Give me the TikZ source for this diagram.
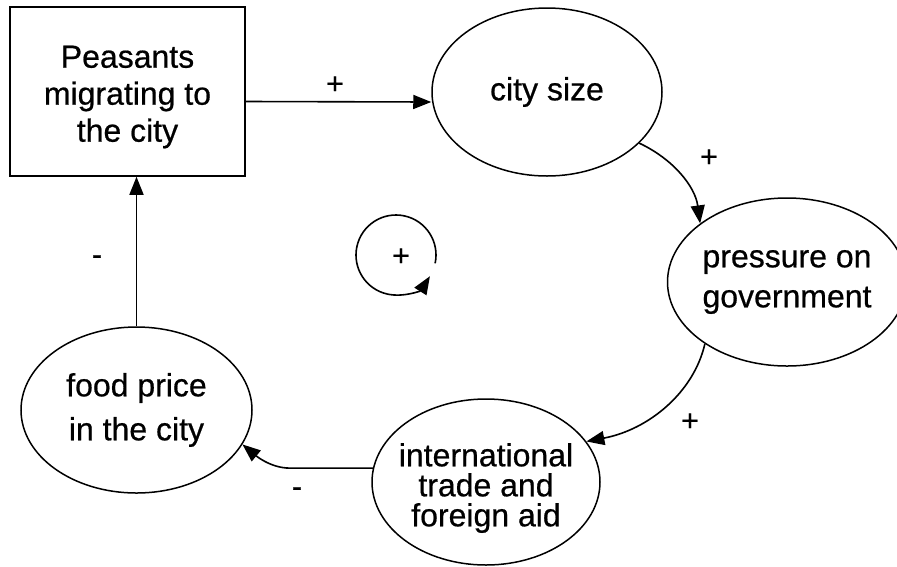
\documentclass[tikz,border=0pt]{standalone}
\usepackage{fontspec}
\setmainfont[FakeBold=0.6]{Liberation Sans}
\usetikzlibrary{shapes.geometric,arrows.meta}
\begin{document}
\begin{tikzpicture}[x=1pt,y=-1pt,
  var/.style={draw, ellipse, line width=1.5pt, inner sep=0pt, align=center},
  box/.style={draw, rectangle, line width=1.5pt, inner sep=0pt},
  txt/.style={inner sep=0pt, align=center},
  link/.style={line width=1.6pt, -{Triangle[length=18pt,width=14pt]}},
  sign/.style={inner sep=0pt, font=\fontsize{30}{30}\selectfont}]
\useasboundingbox (0,0) rectangle (897,566);

% variables
\node[box, minimum width=235pt, minimum height=169pt] (peas) at (127.5,91.5) {};
\node[txt, font=\fontsize{32}{37}\selectfont] (peastxt) at (127.5,97) {Peasants\\migrating to\\the city};
\node[var, minimum width=230pt, minimum height=168pt, font=\fontsize{32}{37}\selectfont] (city) at (547,92) {city size};
\node[var, minimum width=218pt, minimum height=168pt, font=\fontsize{32}{40}\selectfont] (press) at (787,282) {pressure on\\government};
\node[var, minimum width=228pt, minimum height=166pt] (intl) at (486,482) {};
\node[txt, font=\fontsize{32}{30}\selectfont] (intltxt) at (486,488) {international\\trade and\\foreign aid};
\node[var, minimum width=231pt, minimum height=166pt, font=\fontsize{32}{44}\selectfont] (food) at (136.5,410) {food price\\in the city};

% links
\draw[link] ([yshift=-10pt]peas.east) -- ([yshift=-10pt]city.west);
\draw[link] (city.-29) .. controls +(34,16) and +(-5,-37) .. (press.146);
\draw[link] (press.-143) .. controls +(-11,48) and +(63,-12) .. (intl.22);
\draw[link] (intl.173) -- ++(-83,0) .. controls +(-20,0) and +(12,10) .. (food.-18);
\draw[link] (food.north) -- (food.north |- peas.south);

% loop symbol
\coordinate (loopc) at (396,255);
\draw[link] ([shift={(12:40)}]loopc) arc[start angle=372, end angle=32, radius=40];

% signs
\node[sign] (s1) at (335,85) {+};
\node[sign] (s2) at (709,158) {+};
\node[sign] (s3) at (690,422) {+};
\node[sign] (s4) at (401,257) {+};
\node[sign] (s5) at (97,260) {-};
\node[sign] (s6) at (297,492) {-};
\end{tikzpicture}
\end{document}
